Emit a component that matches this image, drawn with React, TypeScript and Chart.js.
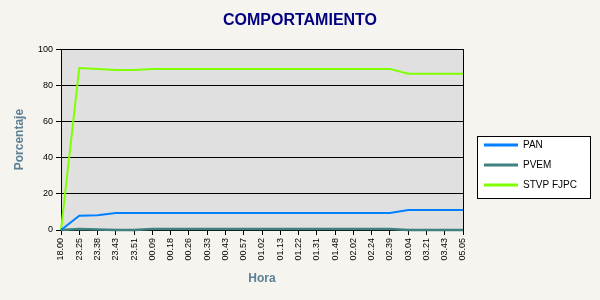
import { useEffect, useRef } from 'react';
import { Chart, registerables } from 'chart.js';

Chart.register(...registerables);

// Hour of each count cut (x axis)
const horas = [
  '18.00', '23.25', '23.38', '23.43', '23.51', '00.09', '00.18', '00.26', '00.33',
  '00.43', '00.57', '01.02', '01.13', '01.22', '01.31', '01.48', '02.02', '02.24',
  '02.39', '03.04', '03.21', '03.43', '05.05',
];

// Percentage per party at each cut
const pan = [
  0, 7.9, 8.1, 9.4, 9.4, 9.4, 9.4, 9.4, 9.4, 9.4, 9.4, 9.4, 9.4, 9.4, 9.4, 9.4, 9.4,
  9.4, 9.4, 11.0, 11.0, 11.0, 11.0,
];
const pvem = [
  0, 0.6, 0.3, 0, 0, 0.6, 0.6, 0.6, 0.6, 0.6, 0.6, 0.6, 0.6, 0.6, 0.6, 0.6, 0.6, 0.6,
  0.6, 0, 0, 0, 0,
];
const stvp = [
  0, 89.6, 89.0, 88.5, 88.5, 89.1, 89.1, 89.1, 89.1, 89.1, 89.1, 89.1, 89.1, 89.1,
  89.1, 89.1, 89.1, 89.1, 89.1, 86.4, 86.4, 86.4, 86.4,
];

const seriesNames = ['PAN', 'PVEM', 'STVP FJPC'];
const seriesColors = ['#0080ff', '#408080', '#80ff00'];

const yMin = 0;
const yMax = 100;
const yStep = 20;

const FONT = '"Liberation Sans", Arial, Helvetica, sans-serif';
const AXIS_TITLE_COLOR = '#5b7f95';

// Page background and grey plotting field
const backdrop = {
  id: 'backdrop',
  beforeDraw(chart: any) {
    const { ctx, width, height, chartArea: a } = chart;
    ctx.save();
    ctx.fillStyle = '#f5f4ee';
    ctx.fillRect(0, 0, width, height);
    ctx.fillStyle = '#e0e0e0';
    ctx.fillRect(a.left, a.top, a.right - a.left, a.bottom - a.top);
    ctx.restore();
  },
};

// Boxed legend in the right-hand margin
const boxedLegend = {
  id: 'boxedLegend',
  afterDraw(chart: any) {
    const { ctx } = chart;
    ctx.save();
    const bx = 477.5;
    const by = 136.5;
    const bw = 113;
    const bh = 62;
    ctx.fillStyle = '#ffffff';
    ctx.fillRect(bx, by, bw, bh);
    ctx.strokeStyle = '#000';
    ctx.lineWidth = 1;
    ctx.strokeRect(bx, by, bw, bh);

    ctx.font = `10px ${FONT}`;
    ctx.textBaseline = 'middle';
    ctx.textAlign = 'left';
    chart.data.datasets.forEach((ds: any, i: number) => {
      const y = 145 + i * 20;
      ctx.strokeStyle = ds.borderColor;
      ctx.lineWidth = 3;
      ctx.beginPath();
      ctx.moveTo(484, y);
      ctx.lineTo(518, y);
      ctx.stroke();
      ctx.fillStyle = '#000';
      ctx.fillText(ds.label, 523, y + 0.5);
    });
    ctx.restore();
  },
};

export default function App() {
  const canvasRef = useRef<HTMLCanvasElement | null>(null);

  useEffect(() => {
    if (!canvasRef.current) return;
    const series = [pan, pvem, stvp];
    const chart = new Chart(canvasRef.current, {
      type: 'line',
      data: {
        labels: horas,
        datasets: series.map((data, i) => ({
          label: seriesNames[i],
          data,
          borderColor: seriesColors[i],
          backgroundColor: seriesColors[i],
          borderWidth: i === 1 ? 2.5 : 2,
          pointRadius: 0,
          tension: 0,
          fill: false,
          clip: false as any,
          yAxisID: 'y',
        })),
      },
      options: {
        responsive: false,
        animation: false,
        events: [],
        layout: { padding: 0 },
        plugins: {
          legend: { display: false },
          tooltip: { enabled: false },
          title: {
            display: true,
            text: 'COMPORTAMIENTO',
            color: '#000080',
            font: { family: FONT, size: 16, weight: 'bold' },
            padding: { top: 11, bottom: 19 },
          },
        },
        scales: {
          x: {
            type: 'category',
            offset: false,
            grid: {
              display: true,
              drawOnChartArea: false,
              drawTicks: true,
              tickLength: 5,
              color: '#000',
            },
            border: { display: true, color: '#000' },
            ticks: {
              autoSkip: false,
              minRotation: 90,
              maxRotation: 90,
              padding: 3,
              color: '#000',
              font: { family: FONT, size: 9 },
            },
            title: {
              display: true,
              text: 'Hora',
              color: AXIS_TITLE_COLOR,
              font: { family: FONT, size: 12, weight: 'bold' },
              padding: { top: 0, bottom: 14 },
            },
            afterFit(scale: any) {
              scale.height = 70;
            },
          },
          y: {
            min: yMin,
            max: yMax,
            grid: { color: '#000', tickLength: 5, lineWidth: 1 },
            border: { display: true, color: '#000' },
            ticks: {
              stepSize: yStep,
              padding: 3,
              color: '#000',
              font: { family: FONT, size: 9 },
            },
            title: {
              display: true,
              text: 'Porcentaje',
              color: AXIS_TITLE_COLOR,
              font: { family: FONT, size: 12, weight: 'bold' },
              padding: { top: 12, bottom: 0 },
            },
            afterFit(scale: any) {
              scale.width = 61;
            },
          },
          // Right frame edge; its box also reserves the legend margin
          yRight: {
            position: 'right',
            min: yMin,
            max: yMax,
            grid: { display: false, drawOnChartArea: false },
            border: { display: true, color: '#000' },
            ticks: { display: false },
            afterFit(scale: any) {
              scale.width = 137;
            },
          },
        },
      },
      plugins: [backdrop, boxedLegend],
    });
    return () => chart.destroy();
  }, []);

  return (
    <div style={{ position: 'fixed', left: 0, top: 0, width: 600, height: 300 }}>
      <canvas ref={canvasRef} width={600} height={300} style={{ display: 'block' }} />
    </div>
  );
}
